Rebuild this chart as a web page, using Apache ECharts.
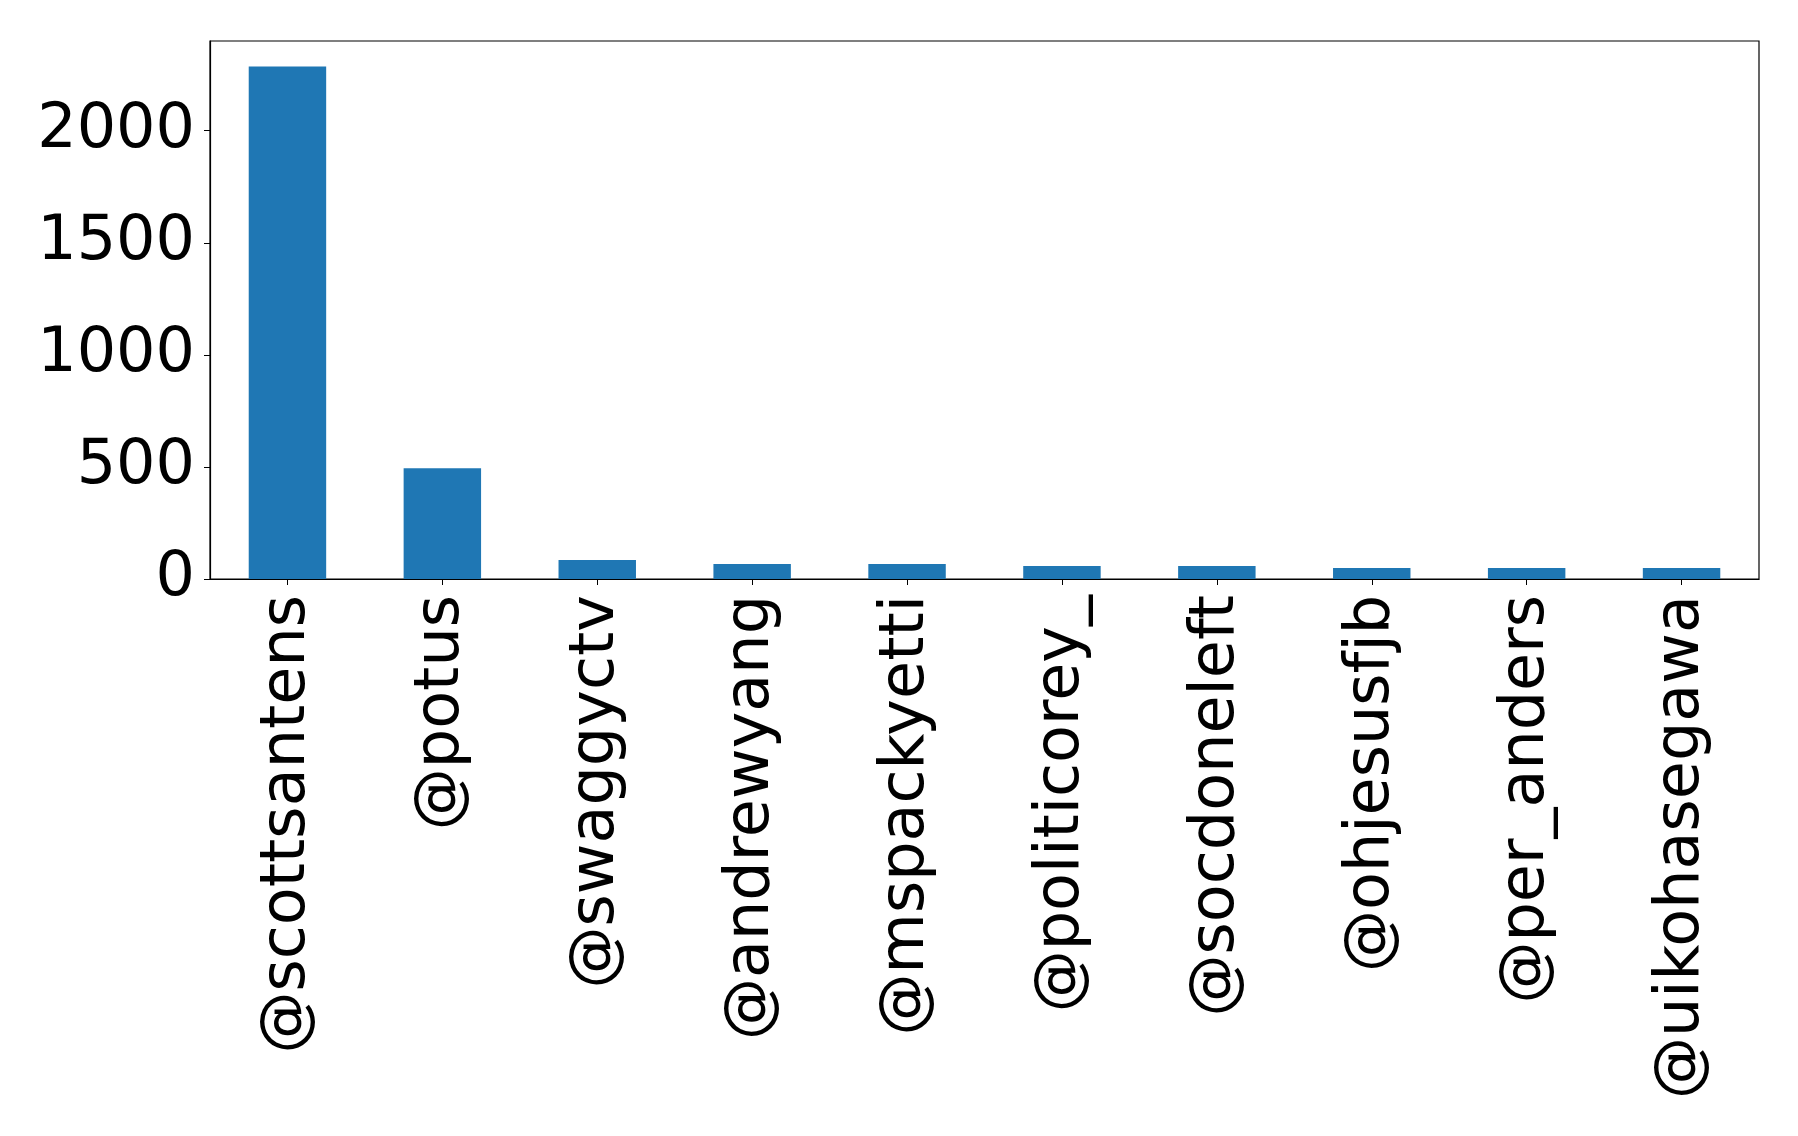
<!DOCTYPE html>
<html>
<head>
<meta charset="utf-8">
<script src="https://cdn.jsdelivr.net/npm/echarts@6/dist/echarts.min.js"></script>
<style>html,body{margin:0;padding:0;background:#fff}#c{width:1798px;height:1136px}</style>
</head>
<body>
<div id="c"></div>
<script>
const categories = ['@scottsantens','@potus','@swaggyctv','@andrewyang','@mspackyetti','@politicorey_','@socdoneleft','@ohjesusfjb','@per_anders','@uikohasegawa'];
const counts = [2286, 494, 85, 67, 67, 58, 58, 49, 49, 49];
const yTicks = [0, 500, 1000, 1500, 2000];

const chart = echarts.init(document.getElementById('c'), null, {renderer: 'canvas'});
const font = 'DejaVu Sans';
chart.setOption({
  animation: false,
  backgroundColor: '#fff',
  grid: {left: 210, right: 39, top: 41, bottom: 557, show: true, borderColor: '#000', borderWidth: 1.2, backgroundColor: 'transparent'},
  xAxis: {
    type: 'category',
    data: categories,
    axisLine: {show: true, lineStyle: {color: '#000', width: 1.2}},
    axisTick: {show: true, alignWithLabel: true, length: 6, lineStyle: {color: '#000'}},
    axisLabel: {rotate: 90, interval: 0, margin: 16, fontFamily: font, fontSize: 62, color: '#000'}
  },
  yAxis: {
    type: 'value',
    min: 0, max: 2400, interval: 500,
    splitLine: {show: false},
    axisLine: {show: true, lineStyle: {color: '#000', width: 1.2}},
    axisTick: {show: true, length: 6, customValues: yTicks, lineStyle: {color: '#000'}},
    axisLabel: {
      margin: 15, fontFamily: font, fontSize: 62, color: '#000',
      customValues: yTicks,
      formatter: v => yTicks.includes(v) ? String(v) : ''
    }
  },
  series: [{
    type: 'bar',
    data: counts,
    barWidth: '50%',
    itemStyle: {color: '#1f77b4'}
  }]
});
</script>
</body>
</html>
